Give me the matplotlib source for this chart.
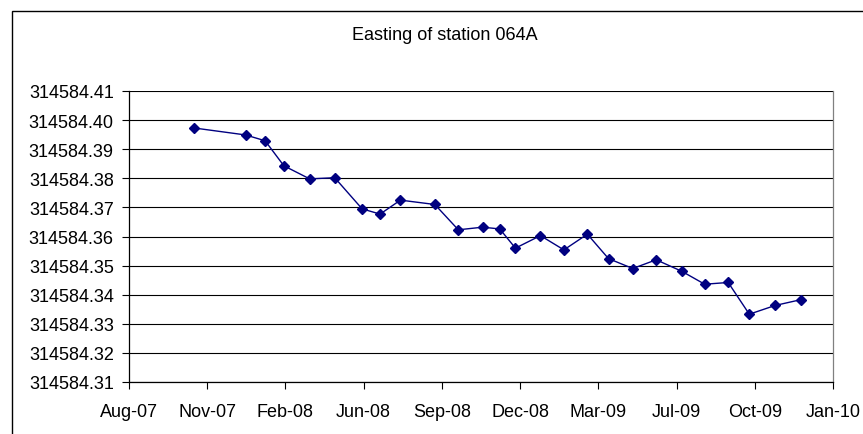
import matplotlib
matplotlib.use("Agg")
import matplotlib.pyplot as plt
import matplotlib.dates as mdates
from matplotlib.patches import Rectangle
import numpy as np
import datetime as dt

plt.rcParams['font.family'] = ['Liberation Sans', 'DejaVu Sans']

dates = ["2007-10-28", "2008-01-02", "2008-01-27", "2008-02-20", "2008-03-24",
         "2008-04-25", "2008-05-30", "2008-06-22", "2008-07-18", "2008-08-31",
         "2008-09-30", "2008-10-31", "2008-11-22", "2008-12-12", "2009-01-13",
         "2009-02-12", "2009-03-14", "2009-04-10", "2009-05-11", "2009-06-10",
         "2009-07-13", "2009-08-11", "2009-09-10", "2009-10-07", "2009-11-09",
         "2009-12-12"]
easting = [314584.3973, 314584.3949, 314584.3929, 314584.3843, 314584.3798,
           314584.3802, 314584.3695, 314584.3677, 314584.3725, 314584.3710,
           314584.3623, 314584.3632, 314584.3626, 314584.3560, 314584.3603,
           314584.3554, 314584.3608, 314584.3524, 314584.3490, 314584.3520,
           314584.3480, 314584.3436, 314584.3442, 314584.3333, 314584.3363,
           314584.3383]
title = "Easting of station 064A"
y_ticks = [314584.31, 314584.32, 314584.33, 314584.34, 314584.35, 314584.36,
           314584.37, 314584.38, 314584.39, 314584.40, 314584.41]
x_start = "2007-08-06"
x_tick_step_days = 100
n_x_ticks = 10

W, H = 863, 435
fig = plt.figure(figsize=(W / 100, H / 100), dpi=100)
left, right, top, bottom = 129, 833, 92, 383
ax = fig.add_axes([left / W, 1 - bottom / H, (right - left) / W, (bottom - top) / H])

x = [dt.datetime.strptime(d, "%Y-%m-%d") for d in dates]
x0 = dt.datetime.strptime(x_start, "%Y-%m-%d")
xticks = [x0 + dt.timedelta(days=x_tick_step_days * i) for i in range(n_x_ticks)]

for yv in y_ticks:
    ax.axhline(yv, color='black', lw=0.8, zorder=1)

ax.plot(x, easting, color='#000080', lw=1.0, marker='D', markersize=5.5,
        markerfacecolor='#000080', markeredgecolor='#000080', zorder=3, clip_on=False)

ax.set_xlim(xticks[0], xticks[-1])
ax.set_ylim(y_ticks[0], y_ticks[-1])
ax.set_xticks(xticks)
ax.xaxis.set_major_formatter(mdates.DateFormatter('%b-%y'))
ax.set_yticks(y_ticks)
ax.set_yticklabels([f"{v:.2f}" for v in y_ticks])

ax.tick_params(axis='both', direction='out', length=5, width=0.8, color='black',
               labelsize=13, labelcolor='black')
ax.tick_params(axis='x', pad=10)
ax.tick_params(axis='y', pad=6)

ax.spines['top'].set_visible(False)
ax.spines['right'].set_color('#808080')
ax.spines['right'].set_linewidth(0.9)
ax.spines['left'].set_color('black')
ax.spines['left'].set_linewidth(0.9)
ax.spines['bottom'].set_color('black')
ax.spines['bottom'].set_linewidth(0.9)

fig.text(445 / W, 1 - 35 / H, title, ha='center', va='center', fontsize=13, color='black')

border = Rectangle((12 / W, -0.2), 1.2, 1.2 - 12 / H, transform=fig.transFigure,
                   fill=False, edgecolor='black', lw=1.0, clip_on=False)
fig.patches.append(border)

fig.savefig("out.png", dpi=100)
